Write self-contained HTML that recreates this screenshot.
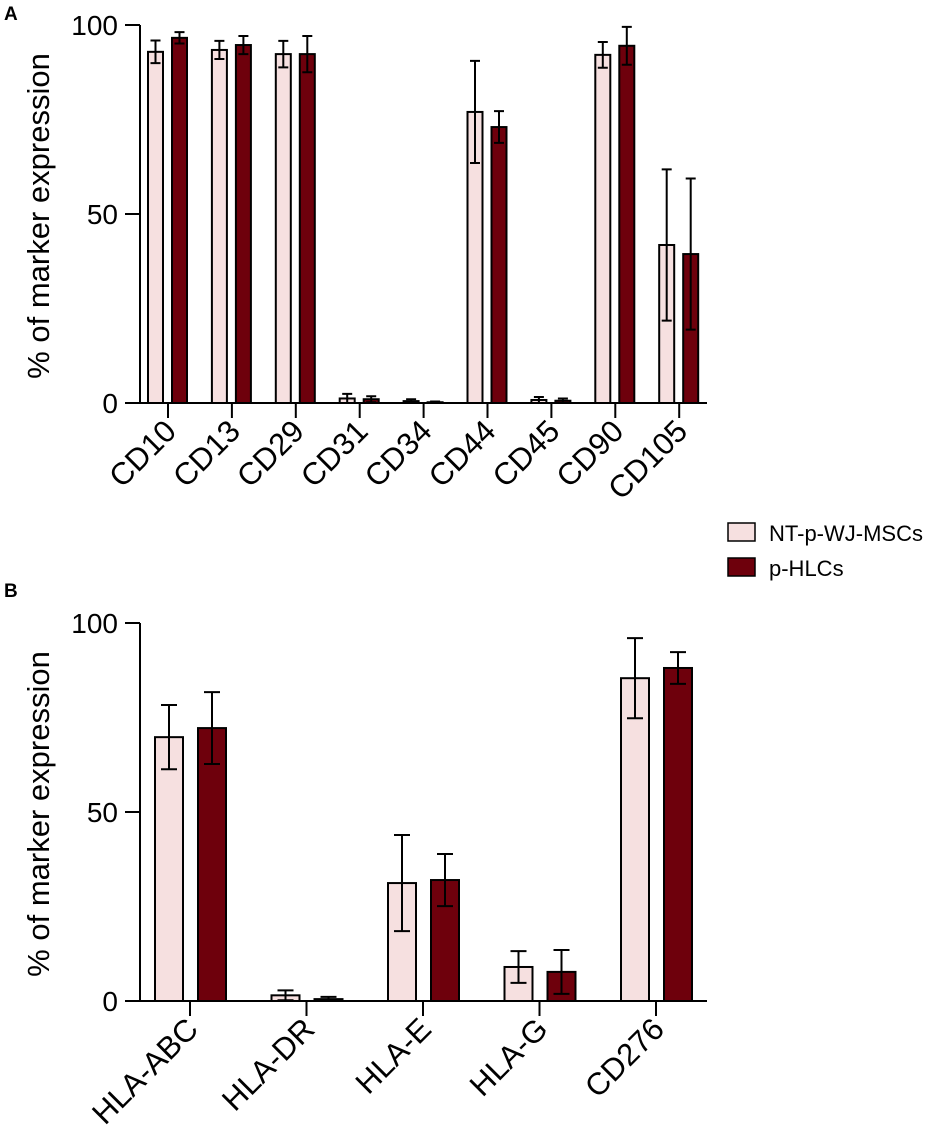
<!DOCTYPE html>
<html><head><meta charset="utf-8"><style>
body{margin:0;background:#fff}
svg text{font-family:"Liberation Sans",Arial,sans-serif;fill:#000}
</style></head><body>
<svg id="chart" width="935" height="1139" viewBox="0 0 935 1139" xmlns="http://www.w3.org/2000/svg">
<text x="4" y="20" font-size="19" font-weight="bold">A</text>
<text x="4" y="597" font-size="19" font-weight="bold">B</text>
<g>
<rect x="728" y="523" width="27" height="18" fill="#f6e0e0" stroke="#000" stroke-width="1.5"/>
<text x="769" y="541" font-size="22">NT-p-WJ-MSCs</text>
<rect x="728" y="558" width="27" height="18" fill="#6e000c" stroke="#000" stroke-width="1.5"/>
<text x="769" y="576" font-size="22">p-HLCs</text>
</g>
<g id="pa"></g><g id="pb"></g>
</svg>
<script>
const catsA = ["CD10","CD13","CD29","CD31","CD34","CD44","CD45","CD90","CD105"];
const ntA = [92.9,93.4,92.3,1.2,0.5,77.0,0.8,92.1,41.8];
const ntErrA = [3.0,2.4,3.5,1.2,0.5,13.5,0.8,3.4,20.0];
const hlcA = [96.6,94.7,92.3,1.0,0.2,73.0,0.6,94.5,39.4];
const hlcErrA = [1.5,2.4,4.8,0.8,0.2,4.2,0.6,5.0,20.0];
const catsB = ["HLA-ABC","HLA-DR","HLA-E","HLA-G","CD276"];
const ntB = [69.8,1.5,31.2,9.0,85.4];
const ntErrB = [8.5,1.3,12.7,4.2,10.6];
const hlcB = [72.2,0.5,32.0,7.7,88.1];
const hlcErrB = [9.5,0.6,6.9,5.8,4.2];
const yTicks = [0,50,100];

const NS="http://www.w3.org/2000/svg";
function mk(parent,tag,attrs){const e=document.createElementNS(NS,tag);for(const k in attrs)e.setAttribute(k,attrs[k]);parent.appendChild(e);return e;}

function panel(g,cfg,cats,s1,e1,s2,e2,pfx){
  const y=v=>cfg.y0-(cfg.y0-cfg.y100)*v/100;
  const x=i=>cfg.x0tick+i*cfg.step;
  let ax=mk(g,'line',{x1:140,y1:y(100),x2:140,y2:cfg.y0+1,stroke:'#000','stroke-width':2});
  
  
  let xa=mk(g,'line',{x1:125,y1:cfg.y0,x2:707,y2:cfg.y0,stroke:'#000','stroke-width':2});
  
  
  yTicks.forEach(t=>{
    let l=mk(g,'line',{x1:125,y1:y(t),x2:140,y2:y(t),stroke:'#000','stroke-width':2});
    
    
    let tx=mk(g,'text',{x:118,y:y(t)+10,'font-size':28,'text-anchor':'end'});
    tx.textContent=t;
    
    
  });
  let tt=mk(g,'text',{x:0,y:0,'font-size':31,'text-anchor':'middle',transform:`translate(49,${(y(0)+y(100))/2+2}) rotate(-90)`});
  tt.textContent='% of marker expression';
  
  
  cats.forEach((c,i)=>{
    const cx=x(i);
    let tk=mk(g,'line',{x1:cx,y1:cfg.y0,x2:cx,y2:cfg.y0+15,stroke:'#000','stroke-width':2});
    
    
    let lb=mk(g,'text',{x:0,y:0,'font-size':31,'text-anchor':'end',transform:`translate(${cx+10},${cfg.y0+30}) rotate(-45)`});
    lb.textContent=c;
    
    
    [[s1,e1,cfg.off1,'#f6e0e0','nt'],[s2,e2,cfg.off2,'#6e000c','hlc']].forEach(([s,e,off,col,nm])=>{
      const bc=cx+off, v=s[i];
      let r=mk(g,'rect',{x:bc-cfg.w/2,y:y(v),width:cfg.w,height:y(0)-y(v),fill:col,stroke:'#000','stroke-width':2});
      
      
      const hi=y(v+e[i]), lo=y(Math.max(0,v-e[i])), cw=cfg.cap;
      let eb=mk(g,'path',{d:`M${bc},${hi}V${lo}M${bc-cw},${hi}H${bc+cw}M${bc-cw},${lo}H${bc+cw}`,stroke:'#000','stroke-width':2,fill:'none'});
      
      
    });
  });
}
panel(document.getElementById('pa'),{y0:403,y100:25,x0tick:168,step:63.9,off1:-12.5,off2:11.5,w:15,cap:5},catsA,ntA,ntErrA,hlcA,hlcErrA,'a-');
panel(document.getElementById('pb'),{y0:1001,y100:623,x0tick:190,step:116.5,off1:-21,off2:22,w:28,cap:8},catsB,ntB,ntErrB,hlcB,hlcErrB,'b-');
</script>
</body></html>
